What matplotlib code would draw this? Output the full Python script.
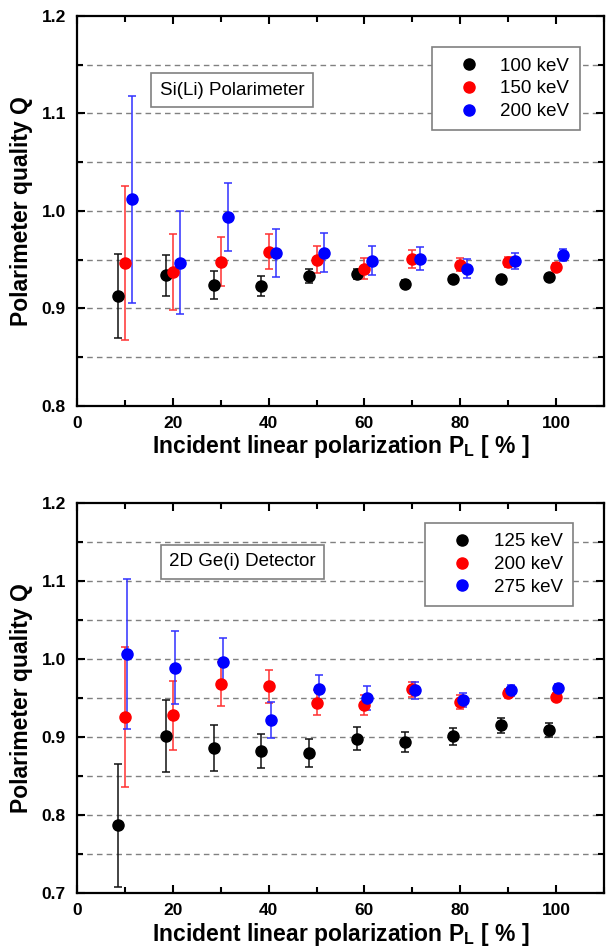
import numpy as np
import matplotlib
matplotlib.use('Agg')
import matplotlib.pyplot as plt
from matplotlib.lines import Line2D
from matplotlib.ticker import MultipleLocator, FormatStrFormatter

plt.rcParams['font.family'] = ['Liberation Sans', 'DejaVu Sans']
plt.rcParams['mathtext.fontset'] = 'custom'
plt.rcParams['mathtext.bf'] = 'Liberation Sans:bold'
plt.rcParams['mathtext.rm'] = 'Liberation Sans'

# ── Si(Li) polarimeter (top panel) ───────────────────────────────────────────
sili_labels = ['100 keV', '150 keV', '200 keV']
sili_x_100 = [8.5, 18.5, 28.5, 38.5, 48.5, 58.5, 68.5, 78.5, 88.5, 98.5]
sili_q_100 = [0.913, 0.934, 0.924, 0.923, 0.933, 0.935, 0.925, 0.930, 0.930, 0.932]
sili_e_100 = [0.043, 0.021, 0.014, 0.010, 0.007, 0.005, 0.004, 0.003, 0.003, 0.003]
sili_x_150 = [10, 20, 30, 40, 50, 60, 70, 80, 90, 100]
sili_q_150 = [0.947, 0.937, 0.948, 0.958, 0.950, 0.941, 0.951, 0.945, 0.948, 0.943]
sili_e_150 = [0.079, 0.039, 0.025, 0.018, 0.014, 0.011, 0.009, 0.007, 0.005, 0.004]
sili_x_200 = [11.5, 21.5, 31.5, 41.5, 51.5, 61.5, 71.5, 81.5, 91.5, 101.5]
sili_q_200 = [1.012, 0.947, 0.994, 0.957, 0.957, 0.949, 0.951, 0.941, 0.949, 0.955]
sili_e_200 = [0.106, 0.053, 0.035, 0.025, 0.020, 0.015, 0.012, 0.010, 0.008, 0.006]

# ── 2D Ge(i) detector (bottom panel) ─────────────────────────────────────────
ge_labels = ['125 keV', '200 keV', '275 keV']
ge_x_125 = [8.5, 18.5, 28.5, 38.5, 48.5, 58.5, 68.5, 78.5, 88.5, 98.5]
ge_q_125 = [0.787, 0.901, 0.886, 0.882, 0.880, 0.898, 0.894, 0.901, 0.915, 0.909]
ge_e_125 = [0.079, 0.046, 0.030, 0.022, 0.018, 0.015, 0.013, 0.011, 0.010, 0.009]
ge_x_200 = [10, 20, 30, 40, 50, 60, 70, 80, 90, 100]
ge_q_200 = [0.926, 0.928, 0.968, 0.965, 0.944, 0.941, 0.961, 0.945, 0.956, 0.951]
ge_e_200 = [0.090, 0.044, 0.028, 0.021, 0.016, 0.013, 0.010, 0.009, 0.006, 0.005]
ge_x_275 = [10.5, 20.5, 30.5, 40.5, 50.5, 60.5, 70.5, 80.5, 90.5, 100.5]
ge_q_275 = [1.006, 0.989, 0.996, 0.922, 0.962, 0.950, 0.960, 0.948, 0.960, 0.963]
ge_e_275 = [0.096, 0.047, 0.031, 0.023, 0.018, 0.015, 0.011, 0.009, 0.007, 0.005]

COLORS = ['black', '#ff0000', '#0000ff']
ECOLORS = ['#111111', '#ff3030', '#3030ff']


def draw_panel(ax, series, labels, ylo, note, note_xy, leg_anchor):
    for (x, q, e), c, ec in zip(series, COLORS, ECOLORS):
        ax.errorbar(x, q, yerr=e, fmt='o', color=c, ecolor=ec, ms=8,
                    mec=c, elinewidth=1.1, capsize=3, capthick=1.1, zorder=3)
    ax.set_xlim(0, 110)
    ax.set_ylim(ylo, 1.2)
    ax.set_xticks([0, 20, 40, 60, 80, 100])
    ax.xaxis.set_minor_locator(MultipleLocator(10))
    ax.yaxis.set_major_locator(MultipleLocator(0.1))
    ax.yaxis.set_minor_locator(MultipleLocator(0.05))
    ax.yaxis.set_major_formatter(FormatStrFormatter('%.1f'))
    # dashed reference lines every 0.05
    for yv in np.arange(ylo + 0.05, 1.199, 0.05):
        ax.axhline(yv, color='#808080', lw=1, ls=(0, (4, 3)), zorder=1)
    ax.tick_params(which='both', direction='in', top=True, right=True,
                   width=1.5, labelsize=12.5)
    ax.tick_params(which='major', length=6)
    ax.tick_params(which='minor', length=4)
    ax.tick_params(axis='y', pad=8)
    ax.tick_params(axis='x', pad=7)
    for s in ax.spines.values():
        s.set_linewidth(1.6)
    for lbl in ax.get_xticklabels() + ax.get_yticklabels():
        lbl.set_fontweight('bold')
    ax.set_xlabel(r'Incident linear polarization P$_{\mathbf{L}}$ [ % ]',
                  fontsize=16.5, fontweight='bold', labelpad=2)
    ax.set_ylabel('Polarimeter quality Q', fontsize=16.5, fontweight='bold',
                  labelpad=6)
    handles = [Line2D([], [], ls='none', marker='o', color=c, ms=8)
               for c in COLORS]
    leg = ax.legend(handles, labels, loc='upper right', bbox_to_anchor=leg_anchor,
                    borderaxespad=0, fontsize=13.5, fancybox=False, framealpha=1,
                    edgecolor='#808080', handletextpad=0.3, labelspacing=0.3,
                    borderpad=0.55, handlelength=2.8)
    leg.get_frame().set_linewidth(1.2)
    ax.text(note_xy[0], note_xy[1], note, transform=ax.transAxes, fontsize=13.5,
            ha='center', va='center', zorder=5,
            bbox=dict(boxstyle='square,pad=0.45', fc='white', ec='#808080', lw=1.2))


fig = plt.figure(figsize=(6.07, 9.47), dpi=100)
ax1 = fig.add_axes([0.127, 0.5713, 0.868, 0.4118])
ax2 = fig.add_axes([0.127, 0.0570, 0.868, 0.4118])

draw_panel(ax1,
           [(sili_x_100, sili_q_100, sili_e_100),
            (sili_x_150, sili_q_150, sili_e_150),
            (sili_x_200, sili_q_200, sili_e_200)],
           sili_labels, 0.8, 'Si(Li) Polarimeter', (0.294, 0.81), (0.954, 0.92))
draw_panel(ax2,
           [(ge_x_125, ge_q_125, ge_e_125),
            (ge_x_200, ge_q_200, ge_e_200),
            (ge_x_275, ge_q_275, ge_e_275)],
           ge_labels, 0.7, '2D Ge(i) Detector', (0.314, 0.849), (0.941, 0.949))

fig.savefig('out.png', dpi=100, facecolor='white')
